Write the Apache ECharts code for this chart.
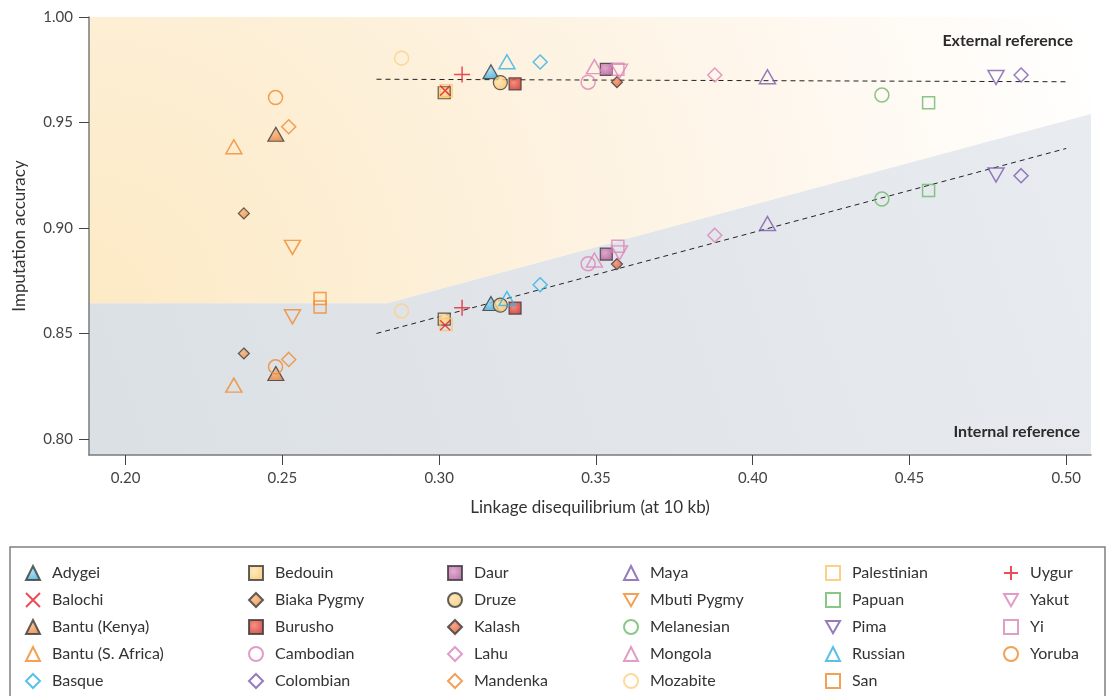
<!DOCTYPE html>
<html>
<head>
<meta charset="utf-8">
<script src="https://cdn.jsdelivr.net/npm/echarts@6/dist/echarts.min.js"></script>
<style>
  html, body { margin: 0; padding: 0; background: #ffffff; }
  #chart { width: 1109px; height: 696px; }
</style>
</head>
<body>
<div id="chart"></div>
<script>
// Populations in legend order (five per column)
const populations = [
  'Adygei', 'Balochi', 'Bantu (Kenya)', 'Bantu (S. Africa)', 'Basque',
  'Bedouin', 'Biaka Pygmy', 'Burusho', 'Cambodian', 'Colombian',
  'Daur', 'Druze', 'Kalash', 'Lahu', 'Mandenka',
  'Maya', 'Mbuti Pygmy', 'Melanesian', 'Mongola', 'Mozabite',
  'Palestinian', 'Papuan', 'Pima', 'Russian', 'San',
  'Uygur', 'Yakut', 'Yi', 'Yoruba'
];

// Linkage disequilibrium at 10 kb, one value per population
const ldValues = [
  0.3165, 0.3019, 0.2479, 0.2345, 0.3322,
  0.3016, 0.2377, 0.3242, 0.3475, 0.4856,
  0.3533, 0.3195, 0.3567, 0.3879, 0.2520,
  0.4047, 0.2532, 0.4412, 0.3495, 0.2880,
  0.3022, 0.4561, 0.4776, 0.3216, 0.2620,
  0.3073, 0.3575, 0.3570, 0.2478
];

// Imputation accuracy using the external reference panel
const externalAccuracy = [
  0.9741, 0.9651, 0.9444, 0.9385, 0.9787,
  0.9641, 0.9069, 0.9683, 0.9691, 0.9725,
  0.9752, 0.9689, 0.9691, 0.9725, 0.9480,
  0.9717, 0.8908, 0.9630, 0.9765, 0.9805,
  0.9651, 0.9594, 0.9713, 0.9788, 0.8666,
  0.9727, 0.9743, 0.9752, 0.9618
];

// Imputation accuracy using the internal reference panel
const internalAccuracy = [
  0.8642, 0.8539, 0.8310, 0.8255, 0.8731,
  0.8568, 0.8405, 0.8620, 0.8830, 0.9248,
  0.8876, 0.8634, 0.8829, 0.8966, 0.8377,
  0.9021, 0.8579, 0.9137, 0.8848, 0.8607,
  0.8543, 0.9178, 0.9251, 0.8666, 0.8626,
  0.8622, 0.8882, 0.8914, 0.8342
];

// Trend lines through each group of points
const externalFit = [[0.28, 0.9705], [0.50, 0.9693]];
const internalFit = [[0.28, 0.8500], [0.50, 0.9377]];

// Boundary between the two shaded regions
const regionBoundary = [[0.1883, 0.8643], [0.2834, 0.8643], [0.5079, 0.9540]];

const xTicks = [0.20, 0.25, 0.30, 0.35, 0.40, 0.45, 0.50];
const yTicks = [0.80, 0.85, 0.90, 0.95, 1.00];
const xRange = [0.1883, 0.5079];
const yRange = [0.7924, 1.0];

// ---- marker styles ----
const FONT = 'Lato, "Open Sans", sans-serif';
const DOWN_TRIANGLE = 'path://M0,0L16,0L8,14Z';
const CROSS = 'path://M0,0L10,10M10,0L0,10';
const PLUS = 'path://M5,0L5,10M0,5L10,5';

const SIZE = {
  triangle: [16, 14], down: [16, 14], circle: 14, rect: 12,
  diamond: 14, smallDiamond: 11, cross: 10, plus: 16
};
const SYMBOL = {
  triangle: 'triangle', down: DOWN_TRIANGLE, circle: 'circle', rect: 'rect',
  diamond: 'diamond', smallDiamond: 'diamond', cross: CROSS, plus: PLUS
};

function radial(light, dark) {
  return {
    type: 'radial', x: 0.4, y: 0.4, r: 0.75,
    colorStops: [{ offset: 0, color: light }, { offset: 1, color: dark }]
  };
}
function openMark(shape, color) {
  return { shape: shape, itemStyle: { color: 'rgba(0,0,0,0)', borderColor: color, borderWidth: 1.5 } };
}
function filledMark(shape, light, dark) {
  return { shape: shape, itemStyle: { color: radial(light, dark), borderColor: '#3a3a3a', borderWidth: 1.2 } };
}

const ORANGE = '#f08a2c', RED = '#e52030', BLUE = '#2fb1e2', PINK = '#d985b9',
      PURPLE = '#7c5bab', GREEN = '#6cb96a', PALE = '#fdcf82', PALE_SQ = '#fcc468';

const markStyles = {
  'Adygei': filledMark('triangle', '#9ad8f2', '#2a9dd6'),
  'Balochi': openMark('cross', RED),
  'Bantu (Kenya)': filledMark('triangle', '#f8b47c', '#e3722a'),
  'Bantu (S. Africa)': openMark('triangle', ORANGE),
  'Basque': openMark('diamond', BLUE),
  'Bedouin': filledMark('rect', '#fee5ac', '#f6bd5c'),
  'Biaka Pygmy': filledMark('smallDiamond', '#f7b47a', '#e27d32'),
  'Burusho': filledMark('rect', '#f47560', '#c41c22'),
  'Cambodian': openMark('circle', PINK),
  'Colombian': openMark('diamond', PURPLE),
  'Daur': filledMark('rect', '#dc98c6', '#a24a8b'),
  'Druze': filledMark('circle', '#fee3a8', '#f5bd5e'),
  'Kalash': filledMark('smallDiamond', '#f29068', '#d5402a'),
  'Lahu': openMark('diamond', PINK),
  'Mandenka': openMark('diamond', ORANGE),
  'Maya': openMark('triangle', PURPLE),
  'Mbuti Pygmy': openMark('down', ORANGE),
  'Melanesian': openMark('circle', GREEN),
  'Mongola': openMark('triangle', PINK),
  'Mozabite': openMark('circle', PALE),
  'Palestinian': openMark('rect', PALE_SQ),
  'Papuan': openMark('rect', GREEN),
  'Pima': openMark('down', PURPLE),
  'Russian': openMark('triangle', BLUE),
  'San': openMark('rect', ORANGE),
  'Uygur': openMark('plus', RED),
  'Yakut': openMark('down', PINK),
  'Yi': openMark('rect', PINK),
  'Yoruba': openMark('circle', ORANGE)
};

// ---- series ----
const backgroundSeries = {
  type: 'custom',
  silent: true,
  z: 0,
  clip: false,
  data: [[0.3, 0.9]],
  renderItem: function (params, api) {
    const tl = api.coord([xRange[0], yRange[1]]);
    const tr = api.coord([xRange[1], yRange[1]]);
    const br = api.coord([xRange[1], yRange[0]]);
    const bl = api.coord([xRange[0], yRange[0]]);
    const b = regionBoundary.map(function (p) { return api.coord(p); });
    const reach = Math.hypot(tr[0] - b[0][0], tr[1] - b[0][1]);
    const warm = new echarts.graphic.RadialGradient(b[0][0], b[0][1], reach, [
      { offset: 0, color: '#fdeac5' },
      { offset: 0.3, color: '#fdefd6' },
      { offset: 0.65, color: '#fef6eb' },
      { offset: 1, color: '#ffffff' }
    ], true);
    const cool = new echarts.graphic.LinearGradient(bl[0], bl[1], b[2][0], b[2][1], [
      { offset: 0, color: '#dbe0e5' },
      { offset: 1, color: '#e8ebef' }
    ], true);
    return {
      type: 'group',
      children: [
        { type: 'polygon', shape: { points: [tl, tr, b[2], b[1], b[0]] }, style: { fill: warm } },
        { type: 'polygon', shape: { points: [b[0], b[1], b[2], br, bl] }, style: { fill: cool } }
      ]
    };
  }
};

function fitSeries(points) {
  return {
    type: 'line',
    data: points,
    symbol: 'none',
    silent: true,
    z: 1,
    lineStyle: { color: '#222222', width: 1, type: [5, 4] }
  };
}

const scatterSeries = populations.map(function (name, i) {
  const st = markStyles[name];
  const overlay = (st.shape === 'cross' || st.shape === 'plus');
  return {
    type: 'scatter',
    name: name,
    symbol: SYMBOL[st.shape],
    symbolSize: SIZE[st.shape],
    itemStyle: st.itemStyle,
    z: overlay ? 4 : 3,
    data: [[ldValues[i], externalAccuracy[i]], [ldValues[i], internalAccuracy[i]]]
  };
});

// ---- legend: six columns of five ----
const legendLefts = [25, 248, 447, 623, 825, 1003];
const legends = legendLefts.map(function (left, c) {
  return {
    orient: 'vertical',
    left: left,
    top: 565,
    padding: 0,
    itemWidth: 14,
    itemHeight: 14,
    itemGap: 11,
    selectedMode: false,
    textStyle: { fontFamily: FONT, fontSize: 16, color: '#333333', lineHeight: 16, padding: [0, 0, 0, 7] },
    data: populations.slice(c * 5, c * 5 + 5)
  };
});

const chart = echarts.init(document.getElementById('chart'), null, { renderer: 'canvas' });
chart.setOption({
  animation: false,
  backgroundColor: '#ffffff',
  grid: { left: 89, top: 17, right: 18, bottom: 241 },
  xAxis: {
    type: 'value',
    min: xRange[0],
    max: xRange[1],
    name: 'Linkage disequilibrium (at 10 kb)',
    nameLocation: 'middle',
    nameGap: 44,
    nameTextStyle: { fontFamily: FONT, fontSize: 17, color: '#333333' },
    axisLine: { onZero: false, lineStyle: { color: '#7a7a7a', width: 1.5 } },
    axisTick: { customValues: xTicks, length: 10, lineStyle: { color: '#444444', width: 1 } },
    axisLabel: {
      customValues: xTicks, margin: 16,
      formatter: function (v) { return v.toFixed(2); },
      fontFamily: FONT, fontSize: 15, color: '#444444'
    },
    splitLine: { show: false }
  },
  yAxis: {
    type: 'value',
    min: yRange[0],
    max: yRange[1],
    name: 'Imputation accuracy',
    nameLocation: 'middle',
    nameGap: 61,
    nameTextStyle: { fontFamily: FONT, fontSize: 17, color: '#333333' },
    axisLine: { show: true, onZero: false, lineStyle: { color: '#7a7a7a', width: 1.5 } },
    axisTick: { show: true, customValues: yTicks, length: 10, lineStyle: { color: '#444444', width: 1 } },
    axisLabel: {
      customValues: yTicks, margin: 16,
      formatter: function (v) { return v.toFixed(2); },
      fontFamily: FONT, fontSize: 15, color: '#444444'
    },
    splitLine: { show: false }
  },
  legend: legends,
  graphic: [
    {
      type: 'text', right: 36, top: 33, z: 10,
      style: { text: 'External reference', font: 'bold 16px ' + FONT, fill: '#2b2b2b' }
    },
    {
      type: 'text', right: 29, top: 424, z: 10,
      style: { text: 'Internal reference', font: 'bold 16px ' + FONT, fill: '#2b2b2b' }
    },
    {
      type: 'rect', z: 10, silent: true,
      shape: { x: 10, y: 547, width: 1095, height: 170 },
      style: { fill: 'none', stroke: '#808080', lineWidth: 1.5 }
    }
  ],
  series: [backgroundSeries, fitSeries(externalFit), fitSeries(internalFit)].concat(scatterSeries)
});
</script>
</body>
</html>
